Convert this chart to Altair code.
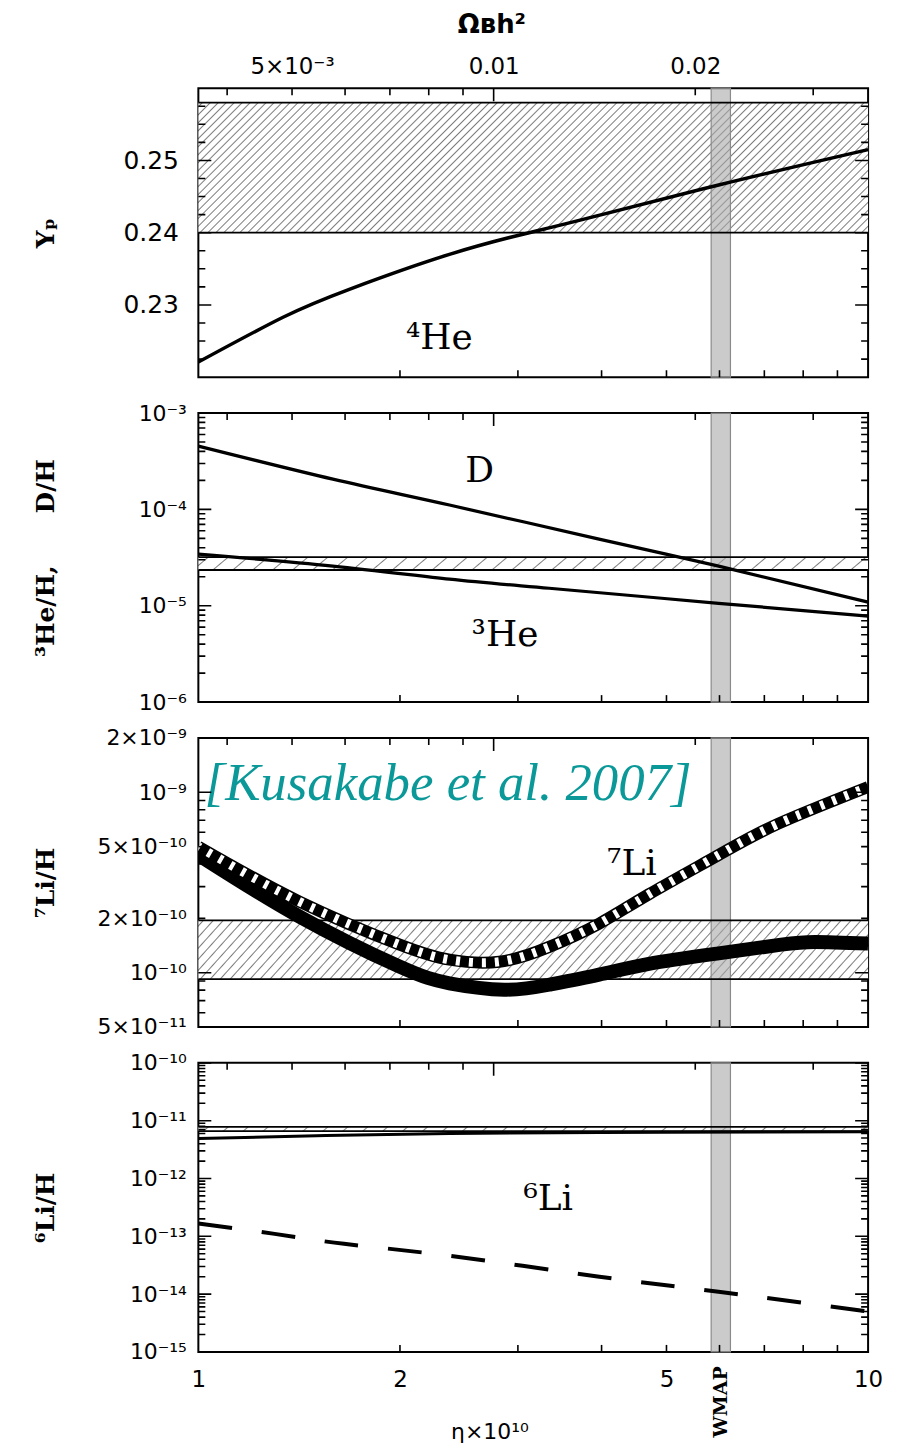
import math
import altair as alt
import pandas as pd

# ---------------- data ----------------
eta_he4 = [1.0, 1.338, 1.684, 2.371, 3.119, 3.741, 5.982, 10.0]
yp_he4 = [0.2221, 0.2283, 0.2322, 0.2370, 0.2400, 0.2418, 0.2466, 0.2515]
he4_band = [0.240, 0.258]

eta_d = [1.0, 1.588, 2.371, 3.965, 5.982, 10.0]
d_h = [4.54e-4, 2.06e-4, 1.11e-4, 4.92e-5, 2.58e-5, 1.09e-5]
eta_he3 = [1.0, 1.588, 2.371, 3.341, 5.982, 10.0]
he3_h = [3.43e-5, 2.58e-5, 1.89e-5, 1.52e-5, 1.06e-5, 7.8e-6]
d_band = [2.35e-5, 3.2e-5]

eta_li7_std = [1.0, 1.418, 1.998, 2.371, 2.814, 3.341, 3.965, 4.706, 5.982, 7.347, 10.0]
li7_std = [5.0e-10, 2.47e-10, 1.43e-10, 1.18e-10, 1.15e-10, 1.39e-10, 1.87e-10, 2.72e-10, 4.49e-10,
           6.7e-10, 1.07e-9]
eta_li7_mod = [1.0, 1.418, 1.998, 2.371, 2.863, 3.341, 3.965, 4.706, 5.982, 7.42, 8.34, 10.0]
li7_mod = [4.5e-10, 2.04e-10, 1.08e-10, 8.73e-11, 8.05e-11, 8.58e-11, 9.75e-11, 1.12e-10, 1.28e-10,
           1.43e-10, 1.48e-10, 1.45e-10]
li7_band = [9.2e-11, 1.95e-10]

eta_li6_mod = [1.0, 1.5, 2.37, 5.0, 10.0]
li6_mod = [4.9e-12, 5.5e-12, 6.0e-12, 6.3e-12, 6.4e-12]
eta_li6_std = [1.0, 1.3, 1.65, 2.37, 3.97, 5.98, 10.0]
li6_std = [1.66e-13, 1.1e-13, 7.4e-14, 4.6e-14, 2.0e-14, 1.1e-14, 5.0e-15]
li6_band = [6.6e-12, 7.8e-12]

wmap = [5.83, 6.23]
wmap_label_at = 6.03

# tick labels / tick values
x_label_vals = [1, 2, 5, 10]
x_label_txt = ["1", "2", "5", "10"]
x_minor = [2, 3, 4, 5, 6, 7, 8, 9]
omega_label_vals = [0.005, 0.01, 0.02]
omega_label_txt = ["5×10⁻³", "0.01", "0.02"]
omega_minor = [0.004, 0.005, 0.006, 0.007, 0.008, 0.009, 0.02, 0.03]
omega_major = [0.01]
ETA_PER_OMEGA = 276.0   # eta10 = 276 * Omega_B h^2

yp_label_vals = [0.23, 0.24, 0.25]
yp_label_txt = ["0.23", "0.24", "0.25"]
dh_label_vals = [1e-6, 1e-5, 1e-4, 1e-3]
dh_label_txt = ["10⁻⁶", "10⁻⁵", "10⁻⁴", "10⁻³"]
li7_label_vals = [5e-11, 1e-10, 2e-10, 5e-10, 1e-9, 2e-9]
li7_label_txt = ["5×10⁻¹¹", "10⁻¹⁰", "2×10⁻¹⁰", "5×10⁻¹⁰", "10⁻⁹", "2×10⁻⁹"]
li6_label_vals = [1e-15, 1e-14, 1e-13, 1e-12, 1e-11, 1e-10]
li6_label_txt = ["10⁻¹⁵", "10⁻¹⁴", "10⁻¹³", "10⁻¹²", "10⁻¹¹", "10⁻¹⁰"]

# ---------------- styling ----------------
W, H = 672, 290
SANS = "DejaVu Sans"
SERIF = "DejaVu Serif"
TEAL = "#0a9898"
NB = "\u00a0"
MAJOR_LEN, MINOR_LEN = 13, 7

xscale = alt.Scale(type="log", domain=[1, 10], nice=False)


def label_expr(vals, texts):
    parts = []
    for v, t in zip(vals, texts):
        parts.append(f"(datum.value > {v * 0.999!r} && datum.value < {v * 1.001!r}) ? '{t}' : ")
    return "".join(parts) + "''"


def hatch(w, h, period, theta_deg, fg="#7c7c7c", bg="white", lw=1.0):
    th = math.radians(theta_deg)
    sn, cs = math.sin(th), math.cos(th)
    smax = w * sn + h * cs
    dd = (w * sn) ** 2 + (h * cs) ** 2
    k = smax / dd
    p, q = k * w * sn, k * h * cs
    ps = period * sn
    stops = [{"offset": 0, "color": bg}]
    s = ps / 2
    last = 0.0
    while s + lw < smax:
        a, b, c = (s - lw) / smax, s / smax, (s + lw) / smax
        if a >= last:
            stops += [{"offset": round(a, 6), "color": bg},
                      {"offset": round(b, 6), "color": fg},
                      {"offset": round(c, 6), "color": bg}]
            last = c
        s += ps
    stops.append({"offset": 1, "color": bg})
    return {"gradient": "linear", "x1": 0, "y1": 0, "x2": p, "y2": q, "stops": stops}


def log_minor(dmin, dmax):
    out = []
    for e in range(math.floor(math.log10(dmin)), math.ceil(math.log10(dmax)) + 1):
        for m in range(2, 10):
            v = m * 10.0 ** e
            if dmin * 1.0001 < v < dmax * 0.9999:
                out.append(v)
    return out


def log_major(dmin, dmax):
    out = []
    for e in range(math.floor(math.log10(dmin)), math.ceil(math.log10(dmax)) + 1):
        v = 10.0 ** e
        if dmin * 0.9999 <= v <= dmax * 1.0001:
            out.append(v)
    return out


def panel(ydom, ylog, band, hatch_p, ylab_vals, ylab_txt, ytitle, ymajor, yminor,
          curves, texts, top=False, bottom=False, label_size=22, label_pad=12):
    if ylog:
        ys = alt.Scale(type="log", domain=ydom, nice=False)
        bh = H * (math.log10(band[1]) - math.log10(band[0])) / (math.log10(ydom[1]) - math.log10(ydom[0]))
    else:
        ys = alt.Scale(type="linear", domain=ydom, nice=False, zero=False)
        bh = H * (band[1] - band[0]) / (ydom[1] - ydom[0])

    def X(f, axis=None):
        return alt.X(f, type="quantitative", scale=xscale, axis=axis)

    def Y(f, axis=None):
        return alt.Y(f, type="quantitative", scale=ys, axis=axis)

    layers = []
    # hatched observational band
    bdf = pd.DataFrame({"x": [1.0], "x2": [10.0], "y": [band[0]], "y2": [band[1]]})
    layers.append(alt.Chart(bdf).mark_rect(fill=hatch(W, bh, *hatch_p), strokeWidth=0).encode(
        x=X("x"), x2=alt.X2("x2"), y=Y("y"), y2=alt.Y2("y2")))
    # WMAP band
    wdf = pd.DataFrame({"x": [wmap[0]], "x2": [wmap[1]]})
    layers.append(alt.Chart(wdf).mark_rect(fill="#a8a8a8", fillOpacity=0.6, stroke="#8a8a8a",
                                           strokeWidth=1.2).encode(x=X("x"), x2=alt.X2("x2")))
    # band edges
    edf = pd.DataFrame({"x": [1.0, 1.0], "x2": [10.0, 10.0], "y": band})
    layers.append(alt.Chart(edf).mark_rule(color="black", strokeWidth=1.8).encode(
        x=X("x"), x2=alt.X2("x2"), y=Y("y")))
    # curves
    for etas, vals, style in curves:
        cdf = pd.DataFrame({"x": etas, "y": vals})
        layers.append(alt.Chart(cdf).mark_line(clip=True, interpolate="natural", **style).encode(
            x=X("x"), y=Y("y")))
    # text annotations
    for txt, ex, ey, style in texts:
        tdf = pd.DataFrame({"x": [ex], "y": [ey], "t": [txt]})
        layers.append(alt.Chart(tdf).mark_text(**style).encode(x=X("x"), y=Y("y"), text="t:N"))

    # inward ticks: tick marks centred on the frame edges, clipped to the plot area
    def edge_ticks(rows, orient, length):
        tdf = pd.DataFrame(rows, columns=["x", "y"])
        return alt.Chart(tdf).mark_tick(orient=orient, size=2 * length, thickness=1.6,
                                        color="black", clip=True, opacity=1).encode(
            x=X("x"), y=Y("y"))

    layers.append(edge_ticks([(e, v) for v in ymajor for e in (1.0, 10.0)], "horizontal", MAJOR_LEN))
    layers.append(edge_ticks([(e, v) for v in yminor for e in (1.0, 10.0)], "horizontal", MINOR_LEN))
    layers.append(edge_ticks([(v, ydom[0]) for v in x_minor], "vertical", MINOR_LEN))
    layers.append(edge_ticks([(v * ETA_PER_OMEGA, ydom[1]) for v in omega_minor], "vertical", MINOR_LEN))
    layers.append(edge_ticks([(v * ETA_PER_OMEGA, ydom[1]) for v in omega_major], "vertical", MAJOR_LEN))

    # labelled axes (carried by invisible layers)
    xaxes = []
    if bottom:
        xaxes.append(alt.Axis(orient="bottom", values=x_label_vals,
                              labelExpr=label_expr(x_label_vals, x_label_txt),
                              ticks=False, tickSize=0, domain=False, grid=False,
                              labelFont=SANS, labelFontSize=23, labelPadding=17, labelColor="black",
                              labelOverlap=False, labelFlush=False,
                              title="η×10¹⁰", titleFont=SANS, titleFontSize=22,
                              titleFontWeight="normal", titleColor="black",
                              titleX=292, titleY=80, titleAlign="center", titleBaseline="middle"))
        xaxes.append(alt.Axis(orient="bottom", values=[wmap_label_at], labelExpr="'WMAP'",
                              ticks=False, tickSize=0, domain=False, grid=False,
                              labelFont=SERIF, labelFontSize=19, labelFontWeight="bold",
                              labelAngle=270, labelAlign="right", labelBaseline="middle",
                              labelPadding=14, labelColor="black", labelOverlap=False,
                              labelFlush=False, title=None))
    if top:
        ov = [v * ETA_PER_OMEGA for v in omega_label_vals]
        xaxes.append(alt.Axis(orient="top", values=ov,
                              labelExpr=label_expr(ov, omega_label_txt),
                              ticks=False, tickSize=0, domain=False, grid=False,
                              labelFont=SANS, labelFontSize=23, labelPadding=10, labelColor="black",
                              labelOverlap=False, labelFlush=False,
                              title="Ωʙh²", titleFont=SANS, titleFontSize=26,
                              titleFontWeight="bold", titleColor="black",
                              titleX=294, titleY=-64, titleAlign="center", titleBaseline="middle"))
    yaxes = [
        alt.Axis(orient="left", values=ylab_vals, labelExpr=label_expr(ylab_vals, ylab_txt),
                 ticks=False, tickSize=0, domain=False, grid=False,
                 labelFont=SANS, labelFontSize=label_size, labelPadding=label_pad,
                 labelColor="black", labelOverlap=False, labelFlush=False,
                 title=ytitle, titleFont=SERIF, titleFontSize=25, titleFontWeight="bold",
                 titleColor="black", titleX=-153, titleY=H / 2, titleAngle=270,
                 titleAlign="center", titleBaseline="middle"),
    ]
    cdf = pd.DataFrame({"x": [2.0], "y": [ydom[0] if not ylog else math.sqrt(ydom[0] * ydom[1])]})
    for i in range(max(len(xaxes), len(yaxes))):
        xa = xaxes[i] if i < len(xaxes) else None
        ya = yaxes[i] if i < len(yaxes) else None
        layers.append(alt.Chart(cdf).mark_point(opacity=0).encode(x=X("x", xa), y=Y("y", ya)))

    return alt.layer(*layers).resolve_axis(x="independent", y="independent").properties(
        width=W, height=H)


big = dict(font=SERIF, fontSize=36, baseline="alphabetic", align="center", color="black")

yp_minor = [round(0.2200 + 0.0025 * i, 4) for i in range(1, 16)]
yp_minor = [v for v in yp_minor if v not in yp_label_vals]
p1 = panel([0.22, 0.26], False, he4_band, (8, 45), yp_label_vals, yp_label_txt, "Yₚ",
           yp_label_vals, yp_minor,
           [(eta_he4, yp_he4, dict(color="black", strokeWidth=3.5))],
           [("⁴He", 2.29, 0.2239, big)],
           top=True, label_size=25, label_pad=20)

dom2 = [1e-6, 1e-3]
p2 = panel(dom2, True, d_band, (20, 40), dh_label_vals, dh_label_txt,
           "³He/H," + NB * 6 + "D/H",
           log_major(*dom2), log_minor(*dom2),
           [(eta_d, d_h, dict(color="black", strokeWidth=3.2)),
            (eta_he3, he3_h, dict(color="black", strokeWidth=3.2))],
           [("D", 2.63, 1.92e-4, big), ("³He", 2.87, 3.84e-6, big)])

dom3 = [5e-11, 2e-9]
p3 = panel(dom3, True, li7_band, (10, 48), li7_label_vals, li7_label_txt, "⁷Li/H",
           log_major(*dom3), log_minor(*dom3),
           [(eta_li7_mod, li7_mod, dict(color="black", strokeWidth=14)),
            (eta_li7_std, li7_std, dict(color="black", strokeWidth=12)),
            (eta_li7_std, li7_std, dict(color="white", strokeWidth=9, strokeDash=[4, 9],
                                        strokeDashOffset=2))],
           [("⁷Li", 4.44, 3.47e-10, big),
            ("[Kusakabe et al. 2007]", 2.36, 9.03e-10,
             dict(font="Liberation Serif", fontStyle="italic", fontSize=53,
                  baseline="alphabetic", align="center", color=TEAL))])

dom4 = [1e-15, 1e-10]
p4 = panel(dom4, True, li6_band, (20, 40), li6_label_vals, li6_label_txt, "⁶Li/H",
           log_major(*dom4), log_minor(*dom4),
           [(eta_li6_mod, li6_mod, dict(color="black", strokeWidth=3)),
            (eta_li6_std, li6_std, dict(color="black", strokeWidth=4, strokeDash=[34, 30]))],
           [("⁶Li", 3.33, 2.82e-13, big)],
           bottom=True)

chart = alt.vconcat(p1, p2, p3, p4, spacing=36, bounds="flush").properties(
    padding={"left": 25, "top": 0, "right": 10, "bottom": 5},
    background="white",
).configure_view(stroke="black", strokeWidth=2)

chart.save("out.html", embed_options={"renderer": "svg", "actions": False})
